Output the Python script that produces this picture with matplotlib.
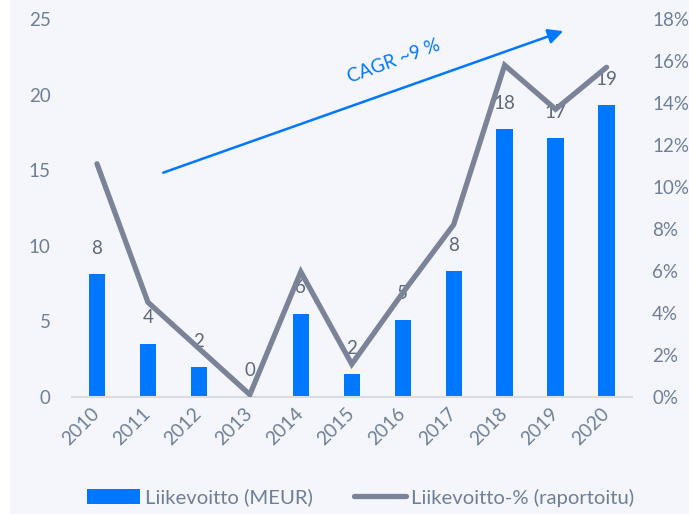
import matplotlib.pyplot as plt
from matplotlib.patches import Rectangle
import numpy as np

# liikevoitto ja liikevoittoprosentti vuosittain
years = ['2010', '2011', '2012', '2013', '2014', '2015', '2016', '2017', '2018', '2019', '2020']
profit = [8.1, 3.5, 1.95, 0.05, 5.5, 1.5, 5.1, 8.3, 17.7, 17.1, 19.3]
profit_labels = ['8', '4', '2', '0', '6', '2', '5', '8', '18', '17', '19']
margin = [11.1, 4.5, 2.3, 0.1, 5.95, 1.55, 4.95, 8.2, 15.8, 13.7, 15.7]

bg = '#f4f6fb'
blue = '#0077ff'
gray_line = '#7a8397'
tick_col = '#6e7f96'
label_col = '#5f6978'

plt.rcParams['font.family'] = ['Lato', 'DejaVu Sans']

fig = plt.figure(figsize=(6.89, 5.14), dpi=100, facecolor=bg)
fig.patches.append(Rectangle((0, 0), 10 / 689, 1, transform=fig.transFigure,
                             facecolor='white', edgecolor='none', zorder=0))
ax = fig.add_axes([0.1038, 0.2282, 0.8135, 0.7348])
ax.set_facecolor('none')

x = np.arange(len(years))
bars = ax.bar(x, profit, width=0.32, color=blue, label='Liikevoitto (MEUR)', zorder=2)
for xi, v, t in zip(x, profit, profit_labels):
    ax.annotate(t, (xi, v), xytext=(0, 12.5), textcoords='offset points',
                ha='center', va='bottom', fontsize=13.5, color=label_col, zorder=4)

ax.set_xlim(-0.5, len(years) - 0.5)
ax.set_ylim(0, 25)
ax.set_yticks(range(0, 26, 5))
ax.set_xticks(x)
ax.set_xticklabels(years, rotation=45, ha='right', va='center', rotation_mode='anchor')
ax.tick_params(axis='y', length=0, pad=15, labelsize=13.5, labelcolor=tick_col)
ax.tick_params(axis='x', length=0, pad=10, labelsize=13.8, labelcolor=tick_col)
for s in ['top', 'left', 'right']:
    ax.spines[s].set_visible(False)
ax.spines['bottom'].set_color('#d9dee6')
ax.spines['bottom'].set_linewidth(1.5)

ax2 = ax.twinx()
line, = ax2.plot(x, margin, color=gray_line, lw=3.8, solid_joinstyle='miter',
                 solid_capstyle='round', label='Liikevoitto-% (raportoitu)', zorder=3)
ax2.set_ylim(0, 18)
ax2.set_yticks(range(0, 19, 2))
ax2.set_yticklabels([f'{v}%' for v in range(0, 19, 2)])
ax2.tick_params(axis='y', length=0, pad=14.5, labelsize=13.5, labelcolor=tick_col)
for s in ax2.spines.values():
    s.set_visible(False)

# kasvunuoli
ax.annotate('', xy=(9.15, 24.2), xytext=(1.3, 14.83), annotation_clip=False,
            arrowprops=dict(arrowstyle='-|>,head_length=0.9,head_width=0.45',
                            color=blue, lw=1.8, shrinkA=0, shrinkB=0), zorder=5)
ax.text(5.83, 22.2, 'CAGR ~9 %', color=blue, fontsize=13.5, rotation=20,
        ha='center', va='center', rotation_mode='anchor', zorder=5)

fig.legend([bars, line], ['Liikevoitto (MEUR)', 'Liikevoitto-% (raportoitu)'],
           loc='center', bbox_to_anchor=(0.524, 0.032), ncol=2, frameon=False,
           fontsize=14.6, labelcolor=tick_col, handlelength=2.6, handleheight=0.7,
           handletextpad=0.25, columnspacing=2.0)

fig.savefig('out.png', dpi=100, facecolor=bg)
